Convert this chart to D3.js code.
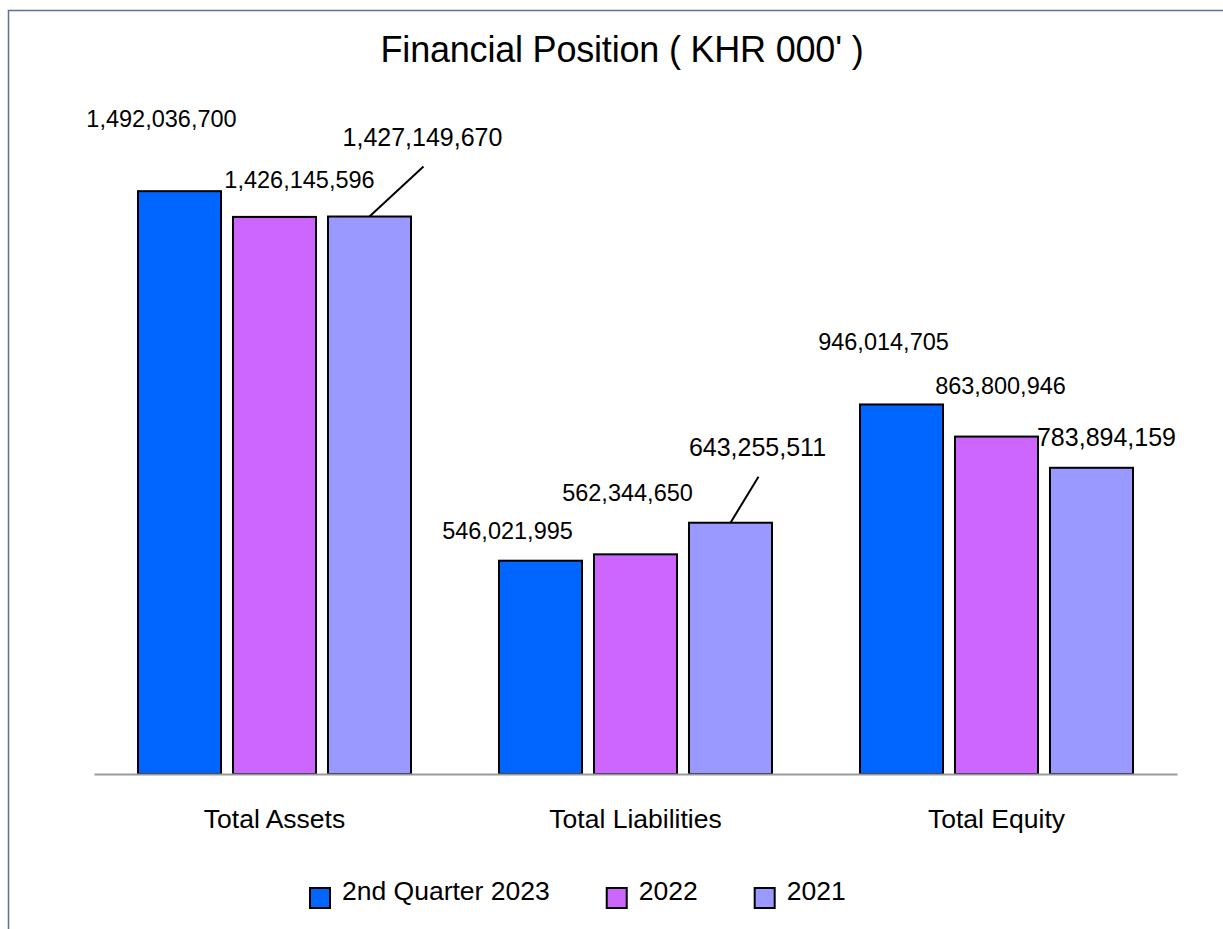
<!DOCTYPE html>
<html>
<head>
<meta charset="utf-8">
<script src="https://cdn.jsdelivr.net/npm/d3@7"></script>
<style>
  body { margin: 0; background: #fff; }
  svg { display: block; font-family: "Liberation Sans", Arial, sans-serif; }
</style>
</head>
<body>
<script>
var categories = ["Total Assets", "Total Liabilities", "Total Equity"];
var seriesNames = ["2nd Quarter 2023", "2022", "2021"];
var q2023 = [1492036700, 546021995, 946014705];
var y2022 = [1426145596, 562344650, 863800946];
var y2021 = [1427149670, 643255511, 783894159];
var seriesValues = [q2023, y2022, y2021];
var colors = ["#0066ff", "#cc66ff", "#9999ff"];
var labelSizes = [23.5, 23.5, 25];

// hand-placed data labels (offset from bar top centre), like the original
var labelOffsets = [
  [[-18, -64], [25, -29], [53, -71]],
  [[-33, -22], [-8, -53], [27, -67]],
  [[-18, -54], [4, -43], [15, -22]]
];
// leader lines: [category, series]
var leaders = [[0, 2], [1, 2]];

var W = 1223, H = 929;
var svg = d3.select("body").append("svg").attr("width", W).attr("height", H);

// frame
svg.append("rect")
  .attr("x", 8.5).attr("y", 10.5)
  .attr("width", 1400).attr("height", 1100)
  .attr("fill", "none")
  .attr("stroke", "#5a7199")
  .attr("stroke-width", 1.5);

svg.append("text")
  .attr("x", 622).attr("y", 62)
  .attr("text-anchor", "middle")
  .attr("font-size", 36)
  .attr("letter-spacing", -0.2)
  .attr("fill", "#000")
  .text("Financial Position ( KHR 000' )");

var x0 = d3.scaleBand().domain(categories).range([94, 1177]).padding(0);
var x1 = d3.scaleBand().domain(seriesNames).range([43, 318]).paddingInner(0.105).paddingOuter(0);
var y = d3.scaleLinear().domain([0, 1600000000]).range([774, 149]);

var fmt = d3.format(",");

var rows = [];
categories.forEach(function(c, ci) {
  seriesNames.forEach(function(s, si) {
    rows.push({cat: c, ci: ci, ser: s, si: si, v: seriesValues[si][ci]});
  });
});

svg.selectAll("rect.bar")
  .data(rows)
  .enter().append("rect")
  .attr("class", "bar")
  .attr("x", function(d) { return x0(d.cat) + x1(d.ser) + 1; })
  .attr("y", function(d) { return y(d.v); })
  .attr("width", x1.bandwidth() - 2)
  .attr("height", function(d) { return y(0) - y(d.v); })
  .attr("fill", function(d) { return colors[d.si]; })
  .attr("stroke", "#000")
  .attr("stroke-width", 2);

// axis baseline
var xAxis = svg.append("g")
  .attr("transform", "translate(0," + y(0) + ")")
  .call(d3.axisBottom(x0).tickSize(0).tickPadding(54));
xAxis.select(".domain").attr("stroke", "#999").attr("stroke-width", 2);
xAxis.selectAll("text")
  .attr("font-size", 26.5)
  .attr("fill", "#000")
  .attr("font-family", "Liberation Sans, Arial, sans-serif")
  .attr("dy", 0);

function labelX(d) { return x0(d.cat) + x1(d.ser) + x1.bandwidth() / 2 + labelOffsets[d.ci][d.si][0]; }
function labelY(d) { return y(d.v) + labelOffsets[d.ci][d.si][1]; }

svg.selectAll("text.lbl")
  .data(rows)
  .enter().append("text")
  .attr("class", "lbl")
  .attr("x", labelX)
  .attr("y", labelY)
  .attr("text-anchor", "middle")
  .attr("font-size", function(d) { return labelSizes[d.si]; })
  .attr("fill", "#000")
  .text(function(d) { return fmt(d.v); });

var leaderRows = leaders.map(function(l) { return rows[l[0] * 3 + l[1]]; });
svg.selectAll("line.leader")
  .data(leaderRows)
  .enter().append("line")
  .attr("class", "leader")
  .attr("x1", function(d) { return x0(d.cat) + x1(d.ser) + x1.bandwidth() / 2; })
  .attr("y1", function(d) { return y(d.v); })
  .attr("x2", function(d) { return labelX(d) + 1; })
  .attr("y2", function(d) { return labelY(d) + 21; })
  .attr("stroke", "#000")
  .attr("stroke-width", 2);

// legend
var legend = svg.append("g").attr("class", "legend");
var lx = 310;
seriesNames.forEach(function(s, i) {
  legend.append("rect")
    .attr("x", lx).attr("y", 888)
    .attr("width", 20).attr("height", 20)
    .attr("fill", colors[i])
    .attr("stroke", "#000")
    .attr("stroke-width", 2);
  var t = legend.append("text")
    .attr("x", lx + 32).attr("y", 900)
    .attr("font-size", 26.5)
    .attr("fill", "#000")
    .text(s);
  lx = lx + 32 + t.node().getComputedTextLength() + 57;
});
</script>
</body>
</html>
